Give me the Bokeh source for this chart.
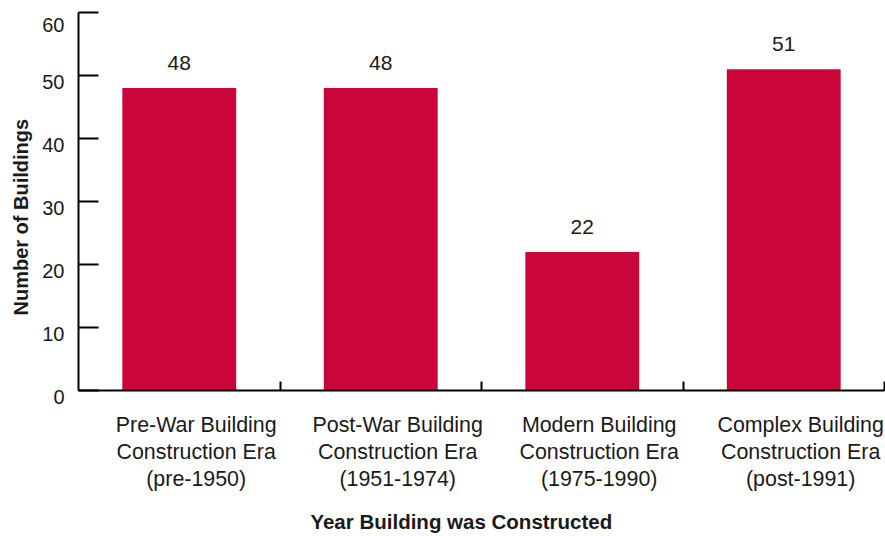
from bokeh.plotting import figure
from bokeh.models import Range1d, FixedTicker, LabelSet, ColumnDataSource, Title, LinearAxis
from bokeh.core.properties import value
from bokeh.embed import file_html
from bokeh.resources import INLINE

# ---- data ----
categories = [
    "Pre-War Building\nConstruction Era\n(pre-1950)",
    "Post-War Building\nConstruction Era\n(1951-1974)",
    "Modern Building\nConstruction Era\n(1975-1990)",
    "Complex Building\nConstruction Era\n(post-1991)",
]
counts = [48, 48, 22, 51]
y_ticks = [0, 10, 20, 30, 40, 50, 60]
y_title = "Number of Buildings"
x_title = "Year Building was Constructed"

# ---- style ----
FONT = "Liberation Sans"
BAR = "#C9053A"
TXT = "#1a1a1a"
LABEL_SHIFT = 0.084    # category labels sit slightly right of the bar centres
TITLE_SHIFT = -0.10    # x title sits slightly left of the plot centre

n = len(categories)
centers = [i + 0.5 for i in range(n)]
bounds = [i + 1 for i in range(n)]
label_pos = [c + LABEL_SHIFT for c in centers]
title_pos = n / 2 + TITLE_SHIFT

p = figure(width=885, height=536,
           x_range=Range1d(0, n), y_range=Range1d(y_ticks[0], y_ticks[-1]),
           output_backend="svg", toolbar_location=None,
           min_border_left=76, min_border_right=1, min_border_top=12, min_border_bottom=146)
p.outline_line_color = None
p.grid.visible = False
p.background_fill_color = "white"
p.border_fill_color = "white"

p.vbar(x=centers, top=counts, width=0.565, bottom=0, fill_color=BAR, line_color=None)

# x axis: labels under the categories, tick marks between categories
xa = p.xaxis[0]
xa.ticker = FixedTicker(ticks=label_pos, minor_ticks=bounds)
xa.major_label_overrides = {c: cat for c, cat in zip(label_pos, categories)}
xa.major_tick_line_color = None
xa.major_tick_in = 0
xa.major_tick_out = 0
xa.minor_tick_in = 9
xa.minor_tick_out = 0
xa.minor_tick_line_width = 2
xa.minor_tick_line_color = "black"
xa.axis_line_width = 2
xa.axis_line_color = "black"
xa.major_label_standoff = 22
xa.major_label_text_font = FONT
xa.major_label_text_font_size = "21.4px"
xa.major_label_text_color = TXT
xa.major_label_text_line_height = 1.14

# x title, carried by a bare axis below the category labels
xt = LinearAxis(ticker=FixedTicker(ticks=[title_pos], minor_ticks=[]),
                major_label_overrides={title_pos: x_title},
                axis_line_color=None, major_tick_line_color=None, minor_tick_line_color=None,
                major_tick_in=0, major_tick_out=0, minor_tick_in=0, minor_tick_out=0,
                major_label_standoff=15,
                major_label_text_font=FONT, major_label_text_font_size="20.5px",
                major_label_text_font_style="bold", major_label_text_color=TXT)
p.add_layout(xt, "below")

# y axis: labels hang just below their tick
ya = p.yaxis[0]
ya.ticker = FixedTicker(ticks=y_ticks, minor_ticks=[])
ya.major_label_overrides = {v: "\n" + str(v) for v in y_ticks}
ya.major_label_text_line_height = 0.62
ya.major_tick_in = 20
ya.major_tick_out = 0
ya.major_tick_line_width = 2
ya.major_tick_line_color = "black"
ya.axis_line_width = 2
ya.axis_line_color = "black"
ya.minor_tick_line_color = None
ya.major_label_standoff = 14
ya.major_label_text_font = FONT
ya.major_label_text_font_size = "20px"
ya.major_label_text_color = TXT

p.add_layout(Title(text=y_title, align="left", offset=75, standoff=15,
                   text_font=FONT, text_font_size="20px", text_font_style="bold",
                   text_color=TXT), "left")

src = ColumnDataSource(dict(x=centers, y=counts, t=[str(c) for c in counts]))
p.add_layout(LabelSet(x="x", y="y", text="t", source=src, y_offset=18,
                      text_align="center", text_baseline="alphabetic",
                      text_font=value(FONT), text_font_size=value("21px"),
                      text_color=TXT))

open("out.html", "w").write(file_html(p, INLINE))
